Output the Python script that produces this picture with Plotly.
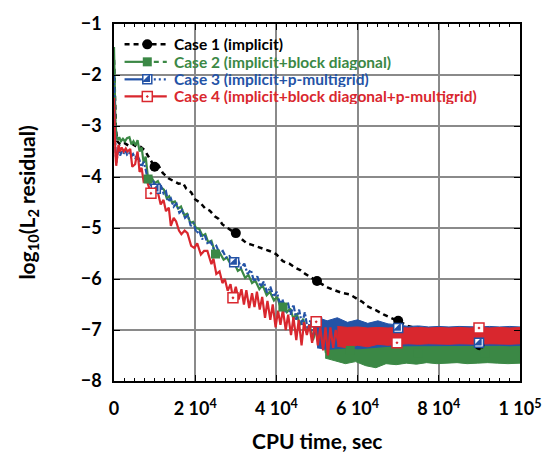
import plotly.graph_objects as go

# ---------------- data ----------------
# Case 1 (implicit)
x1 = [0, 200, 450, 800, 1500, 2500, 3500, 4500, 5500, 6600, 7500, 8500, 9300, 10000, 11000, 12000,
      13500, 14800, 15900, 17000, 17800, 19000, 20000, 21200, 22400, 23600, 24800, 25800, 26700, 28000,
      29800, 31200, 32700, 34000, 35500, 36800, 38300, 39900, 41600, 43200, 44700, 46000, 47100, 48500,
      49800, 51200, 52700, 54300, 56000, 58000, 59900, 61200, 62300, 63500, 64700, 66500, 68300, 70000,
      71200, 72400, 74000, 76000, 78000, 82000, 86000, 90000, 95000, 100000]
y1 = [-1.7, -2.5, -3.05, -3.3, -3.36, -3.33, -3.38, -3.35, -3.4, -3.41, -3.47, -3.6, -3.7, -3.8, -3.78, -3.92,
      -4.03, -4.08, -4.13, -4.12, -4.23, -4.3, -4.44, -4.5, -4.61, -4.66, -4.77, -4.82, -4.93, -5.0,
      -5.1, -5.2, -5.3, -5.33, -5.37, -5.4, -5.45, -5.51, -5.65, -5.7, -5.78, -5.83, -5.9, -5.97,
      -6.04, -6.1, -6.17, -6.22, -6.27, -6.3, -6.39, -6.45, -6.53, -6.57, -6.62, -6.7, -6.76, -6.82,
      -6.87, -6.92, -6.95, -7.0, -7.05, -7.12, -7.2, -7.28, -7.3, -7.32]
m1x = [10000, 30000, 50000, 70000, 90000]
m1y = [-3.8, -5.1, -6.04, -6.82, -7.3]

# Case 2 (implicit+block diagonal)
x2 = [0, 150, 350, 600, 900, 1300, 1700, 2200, 2700, 3200, 3800, 4300, 4800, 5300, 5800, 6300, 6800, 7300,
      7800, 8400, 9200, 10000, 10800, 11500, 12300, 13000, 13600, 14300, 15000, 15800, 16500, 17300, 18000,
      18800, 19500, 20200, 21000, 21800, 22500, 23200, 24000, 25000, 26000, 27000, 27800, 28800, 29600,
      30500, 31300, 32300, 33100, 34000, 34800, 35800, 36600, 37600, 38400, 39400, 40200, 41000, 41800,
      42600, 43400, 44200, 45000, 45800, 46600, 47400, 48200, 49000, 49800, 50600, 51400, 52200]
y2 = [-1.45, -2.3, -2.9, -3.2, -3.28, -3.22, -3.3, -3.25, -3.3, -3.24, -3.22, -3.36, -3.3, -3.38, -3.28, -3.5,
      -3.42, -3.72, -3.6, -4.04, -4.0, -4.12, -4.08, -4.2, -4.25, -4.42, -4.38, -4.5, -4.48, -4.62, -4.58,
      -4.75, -4.72, -4.9, -4.88, -5.0, -5.02, -5.15, -5.12, -5.28, -5.25, -5.51, -5.48, -5.62, -5.58, -5.72,
      -5.68, -5.84, -5.8, -5.98, -5.92, -6.08, -6.03, -6.2, -6.12, -6.32, -6.25, -6.42, -6.35, -6.55, -6.48,
      -6.65, -6.58, -6.78, -6.68, -6.9, -6.78, -7.05, -6.9, -7.2, -7.0, -7.35, -7.1, -7.45]
b2x = [52000, 54500, 57000, 59500, 62000, 64500, 67000, 69500, 72000, 74500, 77000, 79500, 82000, 84500,
       87000, 89500, 92000, 94500, 97000, 100000]
b2up = [-7.15, -7.18, -7.2, -7.2, -7.22, -7.2, -7.24, -7.22, -7.25, -7.24, -7.25, -7.25, -7.24, -7.25,
        -7.25, -7.24, -7.25, -7.25, -7.24, -7.25]
b2lo = [-7.55, -7.6, -7.66, -7.62, -7.7, -7.74, -7.66, -7.68, -7.65, -7.67, -7.64, -7.66, -7.65, -7.64,
        -7.66, -7.65, -7.64, -7.65, -7.66, -7.65]
m2x = [8400, 25000, 41600, 58200, 74800, 91400]
m2y = [-4.04, -5.51, -6.55, -7.4, -7.45, -7.45]

# Case 3 (implicit+p-multigrid)
x3 = [0, 150, 350, 550, 800, 1100, 1500, 1900, 2300, 2800, 3200, 3700, 4200, 4700, 5200, 5700, 6200, 6800,
      7300, 7800, 8400, 9000, 9600, 10300, 11000, 11600, 12200, 12800, 13300, 14000, 14700, 15400, 16100,
      16800, 17500, 18200, 18900, 19600, 20300, 21000, 21700, 22400, 23100, 23800, 24500, 25200, 26000,
      26800, 27600, 28400, 29600, 30500, 31300, 32100, 32900, 33700, 34500, 35300, 36100, 36900, 37700,
      38500, 39300, 40100, 40900, 41500, 42200, 42800, 43500, 44200, 44900, 45600, 46300, 47000, 47700,
      48400, 49100, 49800, 50500]
y3 = [-2.0, -2.8, -3.4, -3.72, -3.55, -3.45, -3.58, -3.5, -3.55, -3.47, -3.56, -3.52, -3.6, -3.55, -3.62,
      -3.58, -3.65, -3.8, -3.7, -3.85, -4.1, -4.15, -4.05, -4.23, -4.2, -4.18, -4.32, -4.28, -4.48, -4.42,
      -4.58, -4.52, -4.7, -4.65, -4.8, -4.75, -4.96, -4.9, -5.1, -5.05, -5.22, -5.15, -5.32, -5.27, -5.4,
      -5.35, -5.5, -5.45, -5.58, -5.55, -5.67, -5.62, -5.78, -5.7, -5.9, -5.82, -6.05, -5.95, -6.15, -6.05,
      -6.27, -6.15, -6.35, -6.25, -6.5, -6.4, -6.65, -6.45, -6.7, -6.5, -6.8, -6.6, -6.9, -6.65, -7.0,
      -6.8, -7.1, -6.85, -7.2]
b3x = [50000, 52500, 55000, 57500, 60000, 62500, 65000, 67500, 70000, 72500, 75000, 77500, 80000, 82500,
       85000, 87500, 90000, 92500, 95000, 97500, 100000]
b3up = [-6.75, -6.82, -6.76, -6.85, -6.8, -6.87, -6.82, -6.88, -6.9, -6.93, -6.92, -6.94, -6.93, -6.94,
        -6.93, -6.94, -6.94, -6.93, -6.94, -6.93, -6.94]
b3lo = [-7.35, -7.38, -7.36, -7.35, -7.37, -7.35, -7.34, -7.32, -7.31, -7.3, -7.31, -7.3, -7.3, -7.31,
        -7.3, -7.3, -7.31, -7.3, -7.3, -7.31, -7.3]
m3x = [10300, 29600, 50000, 70000, 89900]
m3y = [-4.23, -5.67, -6.85, -6.96, -7.25]

# Case 4 (implicit+block diagonal+p-multigrid)
x4 = [0, 150, 350, 550, 800, 1100, 1500, 1900, 2400, 2900, 3300, 4000, 4500, 5200, 5800, 6300, 6800, 7300,
      8000, 9100, 10000, 10800, 11500, 12200, 12800, 13500, 14000, 14700, 15300, 16000, 16600, 17400,
      18100, 19000, 19800, 20500, 21400, 22200, 23000, 24000, 24500, 25200, 26000, 26700, 27300, 28000,
      28700, 29300, 30000, 30700, 31400, 32000, 32600, 33300, 34000, 34600, 35200, 35900, 36500, 37200,
      37800, 38500, 39100, 39800, 40400, 41000, 41600, 42300, 42900, 43600, 44200, 44900, 45500, 46200,
      46800, 47500, 48100, 48800, 49500, 50200, 50800, 51500, 52100, 52700, 53300, 54000, 54600, 55300]
y4 = [-2.45, -3.0, -3.55, -3.78, -3.55, -3.37, -3.5, -3.42, -3.5, -3.44, -3.5, -3.45, -3.8, -3.75, -3.5,
      -3.9, -3.82, -4.09, -4.05, -4.32, -4.25, -4.3, -4.54, -4.45, -4.67, -4.6, -4.96, -4.8, -4.87, -5.05,
      -5.12, -5.05, -5.1, -5.35, -5.39, -5.3, -5.52, -5.45, -5.45, -5.71, -5.6, -5.9, -5.85, -6.08, -6.0,
      -6.23, -6.1, -6.37, -6.15, -6.4, -6.2, -6.5, -6.22, -6.57, -6.28, -6.55, -6.25, -6.6, -6.35, -6.76,
      -6.43, -6.8, -6.5, -6.95, -6.62, -6.9, -6.6, -7.0, -6.7, -7.1, -6.75, -7.2, -6.8, -7.3, -6.85, -7.1,
      -6.9, -7.25, -6.85, -7.3, -6.95, -7.4, -6.95, -7.5, -6.95, -7.35, -7.0, -7.28]
b4x = [55000, 57500, 60000, 62500, 65000, 67500, 70000, 72500, 75000, 77500, 80000, 82500, 85000, 87500,
       90000, 92500, 95000, 97500, 100000]
b4up = [-6.93, -6.95, -6.94, -6.96, -6.95, -6.96, -6.95, -6.96, -6.95, -6.96, -6.95, -6.96, -6.95, -6.96,
        -6.95, -6.96, -6.95, -6.96, -6.95]
b4lo = [-7.32, -7.35, -7.3, -7.33, -7.28, -7.3, -7.28, -7.27, -7.28, -7.27, -7.27, -7.28, -7.27, -7.27,
        -7.28, -7.27, -7.27, -7.28, -7.27]
m4x = [9100, 29300, 49800, 69700, 89900]
m4y = [-4.32, -6.37, -6.84, -7.25, -6.96]

names = ["Case 1 (implicit)", "Case 2 (implicit+block diagonal)",
         "Case 3 (implicit+p-multigrid)", "Case 4 (implicit+block diagonal+p-multigrid)"]
colors = ["#000000", "#3b8845", "#2453a6", "#d9272e"]

xtickvals = [0, 20000, 40000, 60000, 80000, 100000]
xticktext = ["0", "2 10<sup>4</sup>", "4 10<sup>4</sup>", "6 10<sup>4</sup>", "8 10<sup>4</sup>", "1 10<sup>5</sup>"]
ytickvals = [-1, -2, -3, -4, -5, -6, -7, -8]

# legend layout (fractions of the plot area)
LEG_ROWS = [0.943, 0.894, 0.845, 0.797]
LEG_X0, LEG_XM, LEG_XD, LEG_X1, LEG_XT = 0.026, 0.082, 0.098, 0.130, 0.145

FONT = "Lato"
line_styles = [dict(color=colors[0], width=2.5, dash="5px,4px"),
               dict(color=colors[1], width=2.2),
               dict(color=colors[2], width=2.2, dash="6px,2px,2px,2px"),
               dict(color=colors[3], width=2.2)]
marker_styles = [dict(symbol="circle", size=10, color=colors[0]),
                 dict(symbol="square", size=9, color=colors[1]),
                 dict(symbol="square", size=9, color="white", line=dict(color=colors[2], width=1.5)),
                 dict(symbol="square-dot", size=10, color="white", line=dict(color=colors[3], width=1.5))]
tri_style = dict(symbol="triangle-se", size=9, color=colors[2], line=dict(width=0))

# ---------------- figure ----------------
fig = go.Figure()

def band(x, up, lo, color):
    fig.add_trace(go.Scatter(x=x + x[::-1], y=up + lo[::-1], fill="toself", fillcolor=color,
                             mode="lines", line=dict(color=color, width=1), showlegend=False,
                             hoverinfo="skip"))

# lines
fig.add_trace(go.Scatter(x=x1, y=y1, mode="lines", line=line_styles[0], showlegend=False))
fig.add_trace(go.Scatter(x=x2, y=y2, mode="lines", line=line_styles[1], showlegend=False))
band(b2x, b2up, b2lo, colors[1])
fig.add_trace(go.Scatter(x=x3, y=y3, mode="lines", line=line_styles[2], showlegend=False))
band(b3x, b3up, b3lo, colors[2])
fig.add_trace(go.Scatter(x=x4, y=y4, mode="lines", line=line_styles[3], showlegend=False))
band(b4x, b4up, b4lo, colors[3])

# markers
for mx, my, ms in zip([m1x, m2x, m3x, m4x], [m1y, m2y, m3y, m4y], marker_styles):
    fig.add_trace(go.Scatter(x=mx, y=my, mode="markers", showlegend=False, marker=ms))
    if mx is m3x:
        fig.add_trace(go.Scatter(x=mx, y=my, mode="markers", showlegend=False, marker=tri_style))

# legend (drawn on an overlay axis spanning the plot area 0..1)
leg_kw = dict(xaxis="x2", yaxis="y2", showlegend=False, hoverinfo="skip")
for i, (ry, ls, ms) in enumerate(zip(LEG_ROWS, line_styles, marker_styles)):
    if i in (1, 2):
        solid = dict(ls); solid.pop("dash", None)
        fig.add_trace(go.Scatter(x=[LEG_X0, LEG_XM], y=[ry, ry], mode="lines", line=solid, **leg_kw))
        tail = dict(ls); tail["dash"] = "5px,4px" if i == 1 else "2px,3px"
        fig.add_trace(go.Scatter(x=[LEG_XD, LEG_X1], y=[ry, ry], mode="lines", line=tail, **leg_kw))
    else:
        fig.add_trace(go.Scatter(x=[LEG_X0, LEG_X1], y=[ry, ry], mode="lines", line=ls, **leg_kw))
    fig.add_trace(go.Scatter(x=[LEG_XM], y=[ry], mode="markers", marker=ms, **leg_kw))
    if i == 2:
        fig.add_trace(go.Scatter(x=[LEG_XM], y=[ry], mode="markers", marker=tri_style, **leg_kw))

annotations = []
for ry, nm, col in zip(LEG_ROWS, names, colors):
    annotations.append(dict(text=f"<b>{nm}</b>", xref="paper", yref="paper", x=LEG_XT, y=ry,
                            xanchor="left", yanchor="middle", showarrow=False, height=16,
                            valign="middle", borderpad=0,
                            font=dict(family=FONT, size=15.5, color=col)))
annotations += [
    dict(text="<b>CPU time, sec</b>", xref="paper", yref="paper", x=0.5, y=-0.166, xanchor="center",
         yanchor="middle", showarrow=False, font=dict(family=FONT, size=21, color="black")),
    dict(text="<b>log<sub>10</sub>(L<sub>2</sub> residual)</b>", xref="paper", yref="paper", x=-0.214, y=0.5,
         xanchor="center", yanchor="middle", textangle=-90, showarrow=False,
         font=dict(family=FONT, size=21, color="black")),
]

axis_common = dict(showline=True, linecolor="black", linewidth=1.5, mirror="allticks",
                   ticks="inside", ticklen=6, tickcolor="black", showgrid=True,
                   gridcolor="#8a8a8a", gridwidth=1.5, zeroline=False,
                   tickfont=dict(family=FONT, size=18, color="black", weight="bold"))

fig.update_layout(
    width=554, height=454,
    margin=dict(l=114, r=24, t=21, b=73),
    paper_bgcolor="white", plot_bgcolor="white",
    xaxis=dict(range=[0, 100000], tickvals=xtickvals, ticktext=xticktext,
               minor=dict(dtick=2500, ticks="inside", ticklen=3, tickcolor="black", showgrid=False),
               ticklabelstandoff=11, **axis_common),
    yaxis=dict(range=[-8, -1], tickvals=ytickvals, ticklabelstandoff=7, **axis_common),
    xaxis2=dict(overlaying="x", range=[0, 1], visible=False, fixedrange=True),
    yaxis2=dict(overlaying="y", range=[0, 1], visible=False, fixedrange=True),
    showlegend=False,
    annotations=annotations,
)

fig.write_html("out.html")
